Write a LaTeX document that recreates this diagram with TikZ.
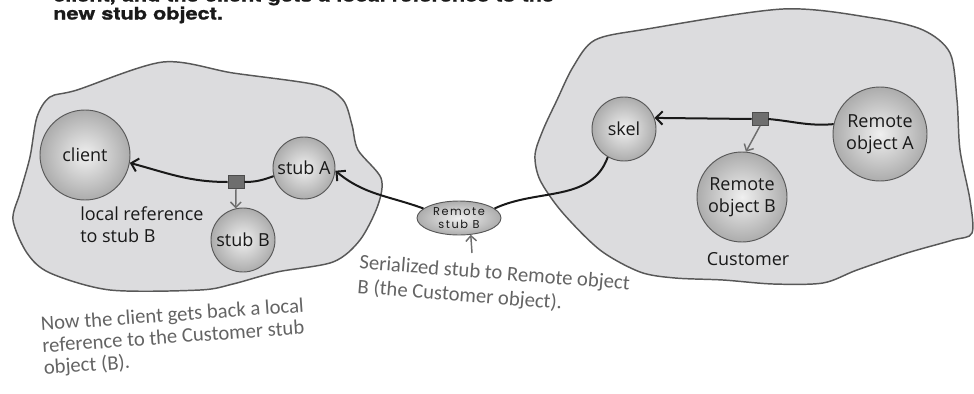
\documentclass[tikz,border=0pt]{standalone}
\usepackage{fontspec}
\usetikzlibrary{arrows.meta,shapes.geometric}
\newfontfamily\labelfont{Open Sans}
\newfontfamily\notefont{Carlito}
\newfontfamily\stubfont[LetterSpace=14]{Poppins}
\newfontfamily\titlefont[FakeStretch=1.25,FakeBold=1.2]{TeX Gyre Heros}
\definecolor{blobgray}{RGB}{220,220,222}
\definecolor{blobline}{RGB}{88,88,88}
\definecolor{notegray}{RGB}{100,100,100}
\definecolor{boxgray}{RGB}{110,110,110}
\definecolor{inkblack}{RGB}{25,25,25}

\begin{document}
\begin{tikzpicture}[x=0.75pt, y=0.75pt,
  every node/.style={inner sep=0pt, text=inkblack},
  blob/.style={fill=blobgray, draw=blobline, line width=1.1pt},
  sphere/.style={circle, draw=blobline, line width=0.7pt, shading=radial,
    inner color=gray!12, outer color=gray!65, align=center,
    font=\labelfont\fontsize{13.5}{16.5}\selectfont},
  label/.style={align=left, font=\labelfont\fontsize{13.5}{16.5}\selectfont},
  refbox/.style={rectangle, fill=boxgray, draw=gray!60!black, line width=0.4pt,
    minimum width=12pt, minimum height=10pt},
  link/.style={draw=inkblack, line width=1.5pt},
  linkarr/.style={link, -{Straight Barb[length=5pt,width=10pt]}},
  grayarr/.style={draw=boxgray, line width=1.1pt, -{Straight Barb[length=4pt,width=8pt]}},
  note/.style={align=left, text=notegray, font=\notefont\fontsize{15.5}{18.5}\selectfont},
  headline/.style={anchor=base west, font=\titlefont\bfseries\fontsize{13}{15}\selectfont}
]
\useasboundingbox (0,0) rectangle (974,-393);
% --- heading (cut at the top) ---
\node[headline] (head1) at (53,-1.5) {client, and the client gets a local reference to the};
\node[headline] (head2) at (53,-19.5) {new stub object.};
% --- client heap ---
\path[blob] plot[smooth cycle, tension=0.5] coordinates {
  (77,-90) (163,-62) (233,-73) (317,-85) (343,-100) (352,-125) (358,-150)
  (381,-178) (378,-205) (360,-240) (333,-262) (277,-272) (233,-284) (200,-290)
  (110,-290) (50,-273) (27,-253) (13,-220) (20,-193) (30,-157) (37,-117) (50,-97)};
% --- server heap ---
\path[blob] plot[smooth cycle, tension=0.5] coordinates {
  (595,-40) (647,-29) (783,-9) (873,-18) (923,-30) (950,-53) (957,-100)
  (960,-150) (970,-200) (972,-233) (953,-240) (907,-253) (857,-270) (823,-283)
  (773,-284) (723,-280) (675,-278) (640,-272) (600,-250) (562,-212) (540,-180)
  (535,-155) (543,-130) (557,-100) (573,-67)};
% --- objects ---
\node[sphere, minimum size=67.5pt] (client) at (85,-155) {client};
\node[sphere, minimum size=46.5pt] (stubA) at (304,-168) {stub A};
\node[sphere, minimum size=48pt] (stubB) at (243,-240) {stub B};
\node[ellipse, draw=blobline, line width=0.7pt, shading=radial, inner color=gray!12,
  outer color=gray!65, minimum width=63pt, minimum height=25.5pt, align=center,
  font=\stubfont\fontsize{8.5}{9.5}\selectfont] (rstub) at (459,-218) {Remote\\stub B};
\node[sphere, minimum size=48pt] (skel) at (624,-129) {skel};
\node[sphere, minimum size=67.5pt] (robjB) at (742,-197) {Remote\\object B};
\node[sphere, minimum size=70.5pt] (robjA) at (880,-134) {Remote\\object A};
\node[refbox] (sqL) at (236,-182) {};
\node[refbox] (sqR) at (760,-119) {};
% --- labels ---
\node[label, anchor=north west] (localref) at (80,-206) {local reference\\to stub B};
\node[label] (customer) at (748,-259) {Customer};
% --- references ---
\draw[link] (stubA.195) to[out=200,in=0] (sqL.east);
\draw[linkarr] (sqL.west) to[out=180,in=-15] (client.-10);
\draw[grayarr] (sqL.south) -- (stubB.103);
\draw[linkarr] (rstub.165) to[out=160,in=-40] (stubA.-5);
\draw[link] (rstub.15) to[out=25,in=-110] (skel.-120);
\draw[link] (robjA.168) to[out=185,in=-5] (sqR.east);
\draw[linkarr] (sqR.west) -- (skel.20);
\draw[grayarr] (sqR.south) -- (robjB.85);
% --- notes ---
\coordinate (notetail) at (472,-253);
\draw[grayarr] (notetail) -- (rstub.-55);
\node[note, anchor=north west, rotate=-4.5] (serialnote) at (360,-254)
  {Serialized stub to Remote object\\B (the Customer object).};
\node[note, anchor=north west, rotate=4, font=\notefont\fontsize{15.5}{16.5}\selectfont] (clientnote) at (40,-316)
  {Now the client gets back a local\\reference to the Customer stub\\object (B).};
\end{tikzpicture}
\end{document}
